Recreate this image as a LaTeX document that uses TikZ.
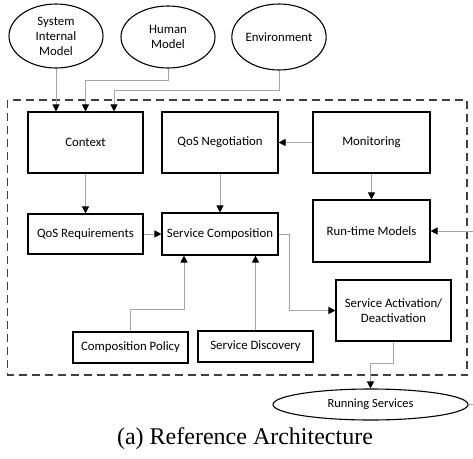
\documentclass[tikz,border=0pt]{standalone}
\usepackage{fontspec}
\setmainfont{Carlito}
\newfontfamily\capfont{Liberation Serif}
\usetikzlibrary{arrows.meta,shapes.geometric}

\tikzset{
  blk/.style={draw=black, line width=1.1pt, rectangle, inner sep=0pt, align=center, font=\fontsize{12.8}{15}\selectfont},
  src/.style={draw=black, line width=1.1pt, ellipse, inner sep=0pt, align=center, font=\fontsize{12.8}{15}\selectfont},
  link/.style={draw=gray!70, line width=0.9pt},
  arr/.style={link, -{Triangle[length=7pt,width=7pt,color=black,fill=black]}},
  frame/.style={draw=black!75, line width=1.3pt, dash pattern=on 8pt off 5pt}
}

\begin{document}
\begin{tikzpicture}[x=1pt,y=-1pt]
\useasboundingbox (0,0) rectangle (473,458);

% boundary of the architecture
\draw[frame] (7.5,100) rectangle (467,375);

% external models
\node[src, minimum width=94pt, minimum height=64pt] (sim) at (56,36) {System\\Internal\\Model};
\node[src, minimum width=94pt, minimum height=62pt] (hm) at (168,37) {Human\\Model};
\node[src, minimum width=94pt, minimum height=66pt] (env) at (279,37) {Environment};

% components
\node[blk, minimum width=115pt, minimum height=61pt] (ctx) at (85.5,142.5) {Context};
\node[blk, minimum width=116pt, minimum height=61pt] (neg) at (220,142.5) {QoS Negotiation};
\node[blk, minimum width=117pt, minimum height=61pt] (mon) at (371.5,142.5) {Monitoring};
\node[blk, minimum width=117pt, minimum height=62pt] (rt) at (371.5,231) {Run-time Models};
\node[blk, minimum width=115pt, minimum height=40pt] (req) at (85.5,234) {QoS Requirements};
\node[blk, minimum width=116pt, minimum height=42pt] (sc) at (220,234) {Service Composition};
\node[blk, minimum width=115pt, minimum height=31pt] (cp) at (130.5,347.5) {Composition Policy};
\node[blk, minimum width=115pt, minimum height=31pt] (sd) at (255.5,346.5) {Service Discovery};
\node[blk, minimum width=115pt, minimum height=61pt] (sa) at (393.5,310.5) {Service Activation/\\Deactivation};

% running services
\node[src, minimum width=195pt, minimum height=31pt, font=\fontsize{12.5}{14}\selectfont] (rs) at (370.5,404.5) {Running Services};

\coordinate (rtin) at (476,231);
\coordinate (rsout) at (476,404.5);

% connectors
\draw[arr] (sim.south) -- (sim.south |- ctx.north);
\draw[arr] (hm.south) -- ++(0,12) -| (ctx.north);
\draw[arr] (env.south) -- ++(0,20) -| ([xshift=28.5pt]ctx.north);
\draw[arr] (ctx.south) -- (req.north);
\draw[arr] (neg.south) -- (sc.north);
\draw[arr] (mon.west) -- (neg.east);
\draw[arr] (mon.south) -- (rt.north);
\draw[arr] (rtin) -- (rt.east);
\draw[arr] (req.east) -- (sc.west);
\draw[arr] (cp.north) -- ++(0,-22) -| ([xshift=-36pt]sc.south);
\draw[arr] (sd.north) -- (sd.north |- sc.south);
\draw[arr] (sc.east) -- ++(11,0) |- (sa.west);
\draw[arr] (sa.south) -- ++(0,22) -| (rs.north);
\draw[link] (rs.east) -- (rsout);

% caption
\node[font=\capfont\fontsize{24}{28}\selectfont] (cap) at (245,439) {(a) Reference Architecture};
\end{tikzpicture}
\end{document}
